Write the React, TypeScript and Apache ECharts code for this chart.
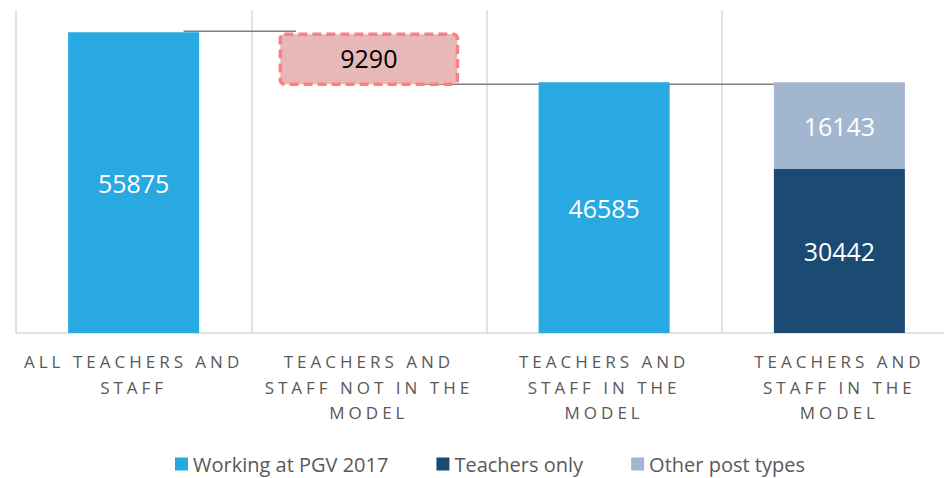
import React, { useEffect, useRef } from "react";
import * as echarts from "echarts";

const categories = [
  "ALL TEACHERS AND\nSTAFF",
  "TEACHERS AND\nSTAFF NOT IN THE\nMODEL",
  "TEACHERS AND\nSTAFF IN THE\nMODEL",
  "TEACHERS AND\nSTAFF IN THE\nMODEL",
];
const workingAtPgv: (number | string)[] = [55875, "-", 46585, "-"];
const teachersOnly: (number | string)[] = ["-", "-", "-", 30442];
const otherPostTypes: (number | string)[] = ["-", "-", "-", 16143];
// [category index, upper value, lower value, label]
const notInModel = [[1, 55875, 46585, 9290]];
// [from category, to category, level]
const connectors = [
  [0, 1, 55875],
  [1, 3, 46585],
];
const yMax = 60000;

const AXIS_COLOR = "#595958";

export default function App() {
  const ref = useRef<HTMLDivElement>(null);
  useEffect(() => {
    if (!ref.current) return;
    const chart = echarts.init(ref.current, undefined, { renderer: "svg" });
    const offsets = [
      [50, -73],
      [52, -65],
    ];
    const labelStyle = {
      show: true,
      position: "inside",
      color: "#ffffff",
      fontSize: 25,
      fontFamily: "Open Sans",
    };
    chart.setOption({
      animation: false,
      backgroundColor: "#ffffff",
      grid: { left: 16, width: 941, top: 10, bottom: 145, outerBoundsMode: "none", containLabel: false },
      legend: {
        data: ["Working at PGV 2017", "Teachers only", "Other post types"],
        top: 452,
        left: 175,
        padding: 0,
        icon: "rect",
        itemWidth: 13,
        itemHeight: 13,
        itemGap: 48,
        textStyle: { color: "#595959", fontSize: 20, lineHeight: 24, fontFamily: "Open Sans" },
      },
      xAxis: {
        type: "category",
        data: categories,
        axisTick: { show: false },
        axisLine: { lineStyle: { color: "#d9d9d9", width: 1.5 } },
        splitLine: { show: true, lineStyle: { color: "#d9d9d9", width: 1.5 } },
        axisLabel: {
          interval: 0,
          color: AXIS_COLOR,
          fontSize: 17,
          fontFamily: "Open Sans",
          lineHeight: 25.5,
          margin: 16,
        },
      },
      yAxis: {
        type: "value",
        min: 0,
        max: yMax,
        show: false,
        splitLine: { show: false },
      },
      series: [
        {
          type: "custom",
          name: "connectors",
          z: 1,
          silent: true,
          data: connectors,
          renderItem: (params: any, api: any) => {
            const a = api.coord([api.value(0), api.value(2)]);
            const b = api.coord([api.value(1), api.value(2)]);
            const off = offsets[params.dataIndex];
            const dy = params.dataIndex === 0 ? -1 : 2;
            return {
              type: "line",
              shape: { x1: a[0] + off[0], y1: a[1] + dy, x2: b[0] + off[1], y2: b[1] + dy },
              style: { stroke: "#7f7f7f", lineWidth: 1.5 },
            };
          },
        },
        {
          type: "bar",
          name: "Working at PGV 2017",
          stack: "all",
          barWidth: 131,
          data: workingAtPgv,
          itemStyle: { color: "#29a9e1" },
          label: labelStyle,
          z: 2,
        },
        {
          type: "bar",
          name: "Teachers only",
          stack: "all",
          barWidth: 131,
          data: teachersOnly,
          itemStyle: { color: "#1b4a72" },
          label: labelStyle,
          z: 2,
        },
        {
          type: "bar",
          name: "Other post types",
          stack: "all",
          barWidth: 131,
          data: otherPostTypes,
          itemStyle: { color: "#a3b6cf" },
          label: labelStyle,
          z: 2,
        },
        {
          type: "custom",
          name: "not in model",
          z: 3,
          data: notInModel,
          renderItem: (params: any, api: any) => {
            const top = api.coord([api.value(0), api.value(1)]);
            const bot = api.coord([api.value(0), api.value(2)]);
            const w = 180;
            return {
              type: "group",
              children: [
                {
                  type: "rect",
                  shape: {
                    x: top[0] - w / 2 + 1.5,
                    y: top[1] + 2,
                    width: w - 3,
                    height: bot[1] - top[1],
                    r: 4,
                  },
                  style: { fill: "#e6b8b7", stroke: "#ff7f7f", lineWidth: 3.5, lineDash: [9, 5] },
                },
                {
                  type: "text",
                  style: {
                    text: String(api.value(3)),
                    x: top[0],
                    y: (top[1] + bot[1]) / 2 + 1,
                    align: "center",
                    verticalAlign: "middle",
                    fill: "#000000",
                    fontSize: 25,
                    fontFamily: "Open Sans",
                  },
                },
              ],
            };
          },
        },
      ],
    });
    return () => chart.dispose();
  }, []);
  return (
    <>
      <style>{`text[fill="${AXIS_COLOR}"] { letter-spacing: 4px; }`}</style>
      <div
        ref={ref}
        style={{ position: "absolute", left: 0, top: 0, width: 944, height: 478 }}
      />
    </>
  );
}
